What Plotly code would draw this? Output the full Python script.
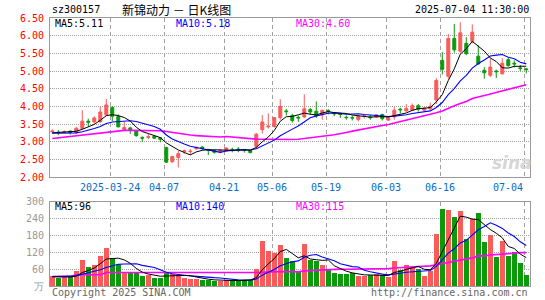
import plotly.graph_objects as go
import pandas as pd

# ---------------- data ----------------
holidays = ["2025-04-04", "2025-05-01", "2025-05-02", "2025-05-05", "2025-06-02"]
dates = [d.strftime("%Y-%m-%d") for d in pd.bdate_range("2025-03-10", "2025-07-04")
         if d.strftime("%Y-%m-%d") not in holidays]

open_ = [3.28, 3.27, 3.26, 3.30, 3.25, 3.37, 3.58, 3.56, 3.56, 3.76,
         3.97, 3.71, 3.34, 3.39, 3.31, 3.12, 3.12, 3.15, 3.11, 2.83,
         2.43, 2.55, 2.72, 2.72, 2.80, 2.85, 2.78, 2.75, 2.71, 2.74,
         2.78, 2.79, 2.78, 2.75, 2.87, 3.34, 3.42, 3.43, 3.68, 3.87,
         3.74, 3.69, 3.70, 3.91, 3.86, 3.76, 3.88, 3.80, 3.79, 3.69,
         3.68, 3.63, 3.72, 3.70, 3.70, 3.77, 3.61, 3.70, 3.92, 3.87,
         3.89, 4.02, 3.89, 3.93, 4.18, 5.30, 4.85, 5.92, 5.56, 5.78,
         5.84, 5.42, 5.02, 4.88, 5.00, 4.92, 5.32, 5.22, 5.09, 5.06]
high = [3.35, 3.33, 3.32, 3.31, 3.42, 3.89, 3.65, 3.72, 3.98, 4.21,
        4.00, 3.77, 3.57, 3.42, 3.33, 3.15, 3.22, 3.17, 3.13, 2.86,
        2.60, 2.74, 2.78, 2.79, 2.86, 2.87, 2.79, 2.77, 2.79, 2.84,
        2.83, 2.85, 2.79, 2.76, 3.25, 3.75, 3.80, 3.70, 4.20, 3.93,
        3.79, 3.74, 4.34, 3.95, 4.14, 3.90, 3.92, 3.84, 3.82, 3.74,
        3.74, 3.74, 3.77, 3.76, 3.78, 3.79, 3.70, 3.98, 3.96, 4.06,
        4.08, 4.07, 3.97, 4.10, 4.80, 5.54, 6.05, 6.33, 6.38, 5.96,
        6.32, 5.73, 5.11, 5.35, 5.04, 5.36, 5.37, 5.30, 5.17, 5.09]
low = [3.23, 3.18, 3.24, 3.20, 3.22, 3.35, 3.42, 3.51, 3.54, 3.74,
       3.58, 3.40, 3.33, 3.22, 3.14, 2.99, 3.07, 3.07, 2.98, 2.40,
       2.40, 2.27, 2.66, 2.63, 2.77, 2.77, 2.62, 2.66, 2.67, 2.72,
       2.70, 2.70, 2.69, 2.67, 2.80, 3.23, 3.37, 3.40, 3.62, 3.74,
       3.54, 3.56, 3.67, 3.76, 3.67, 3.62, 3.77, 3.72, 3.67, 3.62,
       3.60, 3.57, 3.65, 3.62, 3.68, 3.60, 3.59, 3.62, 3.80, 3.85,
       3.87, 3.85, 3.87, 3.90, 4.06, 4.90, 4.78, 5.52, 5.52, 5.45,
       5.78, 5.18, 4.78, 4.83, 4.80, 4.90, 5.12, 5.10, 5.00, 4.93]
close = [3.30, 3.25, 3.28, 3.26, 3.38, 3.58, 3.55, 3.67, 3.84, 4.04,
         3.72, 3.42, 3.40, 3.34, 3.17, 3.10, 3.14, 3.10, 3.07, 2.42,
         2.58, 2.66, 2.74, 2.73, 2.84, 2.81, 2.75, 2.70, 2.75, 2.82,
         2.76, 2.77, 2.75, 2.69, 3.21, 3.56, 3.44, 3.68, 4.00, 3.85,
         3.60, 3.67, 3.93, 3.84, 3.73, 3.89, 3.86, 3.79, 3.77, 3.68,
         3.67, 3.72, 3.73, 3.68, 3.76, 3.65, 3.68, 3.89, 3.90, 3.94,
         4.02, 3.92, 3.95, 4.00, 4.73, 5.05, 5.92, 5.60, 6.08, 5.49,
         6.10, 5.20, 4.95, 5.11, 4.98, 5.22, 5.15, 5.20, 5.07, 5.04]
volume = [35, 28, 32, 32, 52, 94, 66, 76, 108, 137,
          101, 73, 45, 49, 45, 35, 40, 27, 27, 49,
          44, 38, 30, 24, 24, 22, 22, 17, 17, 21,
          21, 21, 22, 22, 62, 161, 126, 116, 147, 101,
          88, 50, 151, 91, 88, 76, 58, 48, 41, 41,
          46, 35, 35, 39, 41, 40, 31, 90, 58, 76,
          66, 60, 37, 52, 186, 274, 270, 246, 267, 168,
          240, 261, 155, 181, 102, 159, 106, 120, 81, 38]

# moving-average values before a full window exists
ma5_head = [3.25, 3.26, 3.27, 3.27]
ma10_head = [3.24, 3.24, 3.24, 3.25, 3.25, 3.28, 3.32, 3.37, 3.43]
ma30_head = [3.09, 3.11, 3.13, 3.15, 3.18, 3.20, 3.22, 3.24, 3.26, 3.28,
             3.30, 3.31, 3.32, 3.32, 3.32, 3.32, 3.32, 3.32, 3.31, 3.29,
             3.26, 3.24, 3.21, 3.19, 3.17, 3.16, 3.15, 3.14, 3.13]
vma5_head = [33, 32, 32, 32]
vma10_head = [34, 34, 34, 34, 36, 42, 47, 52, 58]
vma30_head = [34, 34, 34, 34, 40, 40, 40, 40, 40, 48,
              48, 48, 48, 48, 48, 48, 48, 48, 48, 48,
              48, 48, 48, 48, 48, 48, 48, 47, 47]

price_ticks = [2.0, 2.5, 3.0, 3.5, 4.0, 4.5, 5.0, 5.5, 6.0, 6.5]
vol_ticks = [0, 60, 120, 180, 240, 300]
vol_tick_text = ["万", "60", "120", "180", "240", "300"]
label_dates = ["2025-03-24", "2025-04-07", "2025-04-21", "2025-05-06",
               "2025-05-19", "2025-06-03", "2025-06-16", "2025-07-04"]
label_text = ["2025-03-24", "04-07", "04-21", "05-06", "05-19", "06-03", "06-16", "07-04"]

code = "sz300157"
title = "新锦动力 － 日K线图"
stamp = "2025-07-04 11:30:00"
price_legend = ["MA5:5.11", "MA10:5.18", "MA30:4.60"]
vol_legend = ["MA5:96", "MA10:140", "MA30:115"]

# ---------------- helpers ----------------
def moving_avg(vals, n, head):
    out = list(head)
    for i in range(len(head), len(vals)):
        out.append(sum(vals[i - n + 1:i + 1]) / n)
    return out

x = list(range(len(dates)))
ma5 = moving_avg(close, 5, ma5_head)
ma10 = moving_avg(close, 10, ma10_head)
ma30 = moving_avg(close, 30, ma30_head)
vma5 = moving_avg(volume, 5, vma5_head)
vma10 = moving_avg(volume, 10, vma10_head)
vma30 = moving_avg(volume, 30, vma30_head)

RED = "#fa5a5a"
GREEN = "#0a9a0a"
GRID = "#a0a0a0"
MONO = "DejaVu Sans Mono"
W, H = 545, 300
ML, MR, MT, MB = 50, 15, 18, 14
PW, PH = W - ML - MR, H - MT - MB

def fx(px):
    return (px - ML) / PW

def fy(py):
    return (H - MB - py) / PH

price_dom = [fy(177), 1.0]
vol_dom = [0.0, fy(201.7)]
LINE_SHIFT = -0.33
tick_pos = [dates.index(d) + LINE_SHIFT for d in label_dates]
xr = [-0.38, 79.62]

bar_colors = [RED if c >= o else GREEN for o, c in zip(open_, close)]

fig = go.Figure()
fig.add_trace(go.Candlestick(
    x=x, open=open_, high=high, low=low, close=close,
    increasing=dict(line=dict(color=RED, width=1), fillcolor=RED),
    decreasing=dict(line=dict(color=GREEN, width=1), fillcolor=GREEN),
    whiskerwidth=0, xaxis="x", yaxis="y", showlegend=False, hoverinfo="skip"))
for vals, col, w in [(ma30, "#ff00ff", 1.6), (ma10, "#0000ff", 1.1), (ma5, "#000000", 1.0)]:
    fig.add_trace(go.Scatter(x=x, y=vals, mode="lines", line=dict(color=col, width=w),
                             xaxis="x", yaxis="y", showlegend=False, hoverinfo="skip"))

fig.add_trace(go.Bar(x=x, y=volume, marker=dict(color=bar_colors, line=dict(width=0)),
                     width=0.83, xaxis="x2", yaxis="y2", showlegend=False, hoverinfo="skip"))
for vals, col, w in [(vma30, "#ff00ff", 1.6), (vma10, "#0000ff", 1.1), (vma5, "#000000", 1.0)]:
    fig.add_trace(go.Scatter(x=x, y=vals, mode="lines", line=dict(color=col, width=w),
                             xaxis="x2", yaxis="y2", showlegend=False, hoverinfo="skip"))

axis_common = dict(showline=True, mirror=True, linecolor="#999999", linewidth=1,
                   zeroline=False, fixedrange=True, automargin=False)

fig.update_layout(
    width=W, height=H, margin=dict(l=ML, r=MR, t=MT, b=MB, pad=0, autoexpand=False),
    paper_bgcolor="white", plot_bgcolor="white", showlegend=False, hovermode=False,
    xaxis=dict(domain=[0, 1], range=xr, anchor="y", tickmode="array", tickvals=tick_pos,
               showticklabels=False, ticks="", showgrid=True, gridcolor=GRID,
               griddash="4px,3px", gridwidth=1, rangeslider=dict(visible=False), **axis_common),
    yaxis=dict(domain=price_dom, range=[2.0, 6.5], tickmode="array", tickvals=price_ticks,
               ticktext=["%.2f" % v for v in price_ticks],
               tickfont=dict(family=MONO, size=10, color="#ff0000"), ticks="",
               showgrid=True, gridcolor=GRID, griddash="1px,1px", gridwidth=1,
               ticklabelstandoff=3, **axis_common),
    xaxis2=dict(domain=[0, 1], range=xr, anchor="y2", tickmode="array", tickvals=tick_pos,
                showticklabels=False, ticks="", showgrid=True, gridcolor=GRID,
                griddash="4px,3px", gridwidth=1, **axis_common),
    yaxis2=dict(domain=vol_dom, range=[0, 300], tickmode="array", tickvals=vol_ticks,
                ticktext=vol_tick_text, tickfont=dict(family=MONO, size=10, color="#999999"),
                ticks="", showgrid=True, gridcolor=GRID, griddash="1px,1px", gridwidth=1,
                ticklabelstandoff=3, anchor="x2", **axis_common),
    bargap=0,
)

ann = []
def text(px, py, s, color="#000000", size=10, family=MONO, anchor="left", xr_="paper", **kw):
    ann.append(dict(x=fx(px) if xr_ == "paper" else px, y=fy(py), xref=xr_, yref="paper",
                    text=s, showarrow=False, xanchor=anchor, yanchor="middle",
                    font=dict(family=family, size=size, color=color, **kw)))

text(50, 10, code)
text(120, 10, title, family="Noto Sans CJK SC", size=12)
text(531, 10, stamp, anchor="right")
for px, s, c in zip([53, 174, 294], price_legend, ["#000000", "#0000ff", "#ff00ff"]):
    text(px, 23.5, s, color=c)
for px, s, c in zip([53, 174, 294], vol_legend, ["#000000", "#0000ff", "#ff00ff"]):
    text(px, 206.5, s, color=c)
# date labels under the price panel, centred on their dashed line; the last one sits left of it
for i, (pos, s) in enumerate(zip(tick_pos, label_text)):
    last = i == len(tick_pos) - 1
    text(pos + (0.08 if last else 0), 187, s, color="#0a6cc8",
         anchor="right" if last else "center", xr_="x")
text(50, 292.5, "Copyright 2025 SINA.COM", color="#666666")
text(530, 292.5, "http://finance.sina.com.cn", color="#666666", anchor="right")
text(512, 163, "sina", color="#d6d6d6", size=17, family="DejaVu Sans", anchor="center",
     weight="bold", style="italic")
fig.update_layout(annotations=ann)

fig.write_html("out.html", config={"displayModeBar": False, "staticPlot": True},
               post_script="document.body.style.margin='0';")
